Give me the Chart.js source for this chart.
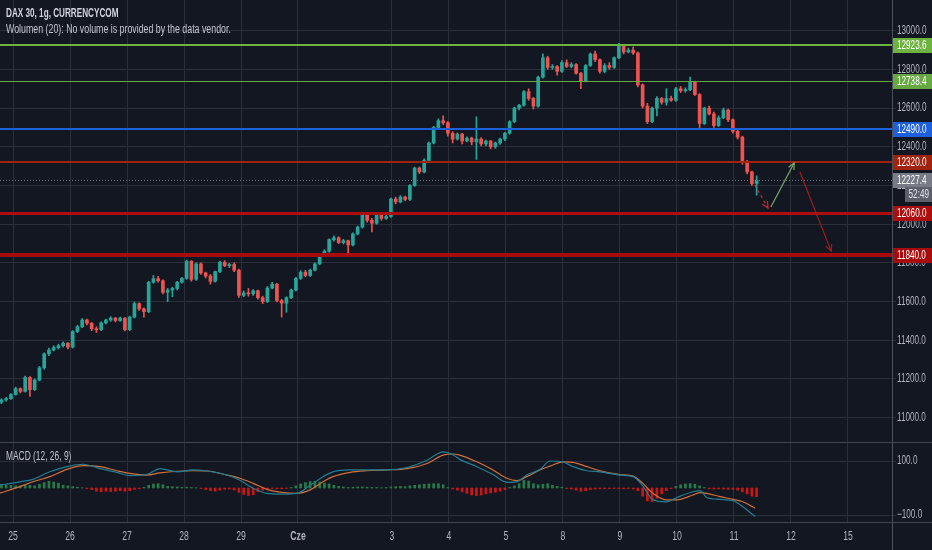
<!DOCTYPE html>
<html>
<head>
<meta charset="utf-8">
<script src="https://cdn.jsdelivr.net/npm/chart.js@4.4.1/dist/chart.umd.min.js"></script>
<style>
  html, body { margin: 0; padding: 0; background: #131722; }
  #wrap { position: relative; width: 932px; height: 550px; overflow: hidden; }
  canvas { position: absolute; left: 0; display: block; }
  #main { top: 0; }
  #macd { top: 442px; }
</style>
</head>
<body>
<div id="wrap">
  <canvas id="main" width="932" height="442"></canvas>
  <canvas id="macd" width="932" height="108"></canvas>
</div>
<script>
// ---- data (DAX 30, 1h candles, 25 May - 11 Jun) ----
var open = [11080,11092,11098,11120,11150,11136,11208,11145,11195,11258,
  11330,11350,11362,11372,11385,11365,11445,11470,11505,11488,
  11460,11455,11490,11505,11515,11502,11515,11455,11520,11590,
  11562,11548,11700,11718,11708,11648,11660,11668,11700,11720,
  11808,11715,11795,11748,11732,11705,11755,11803,11785,11792,
  11762,11632,11645,11640,11656,11620,11600,11670,11690,11605,
  11592,11620,11660,11720,11752,11735,11762,11795,11845,11860,
  11920,11930,11905,11915,11893,11950,11985,12055,12020,12005,
  12050,12030,12040,12130,12115,12140,12128,12200,12290,12270,
  12330,12420,12500,12535,12525,12470,12440,12465,12430,12445,
  12425,12440,12415,12430,12400,12420,12440,12470,12530,12600,
  12615,12685,12650,12610,12760,12860,12810,12815,12790,12835,
  12815,12825,12780,12740,12820,12880,12850,12790,12820,12810,
  12860,12925,12890,12900,12885,12720,12610,12530,12600,12650,
  12630,12650,12640,12700,12690,12695,12735,12670,12520,12600,
  12570,12510,12550,12590,12540,12480,12450,12320,12270,12210];
var high = [11098,11105,11125,11158,11154,11215,11212,11200,11265,11335,
  11360,11372,11380,11392,11388,11450,11478,11512,11510,11492,
  11470,11495,11510,11522,11518,11520,11518,11525,11598,11594,
  11568,11705,11735,11730,11712,11668,11675,11705,11725,11815,
  11812,11800,11800,11752,11740,11758,11810,11812,11798,11800,
  11768,11655,11668,11662,11660,11628,11678,11700,11695,11612,
  11625,11665,11725,11760,11762,11768,11800,11848,11868,11925,
  11940,11935,11922,11918,11955,11990,12062,12060,12030,12058,
  12058,12048,12135,12140,12148,12145,12205,12295,12296,12338,
  12425,12505,12545,12560,12530,12478,12472,12470,12452,12450,
  12555,12448,12435,12433,12425,12445,12475,12535,12605,12620,
  12690,12700,12655,12765,12880,12868,12825,12820,12845,12850,
  12835,12830,12785,12825,12885,12895,12855,12830,12835,12865,
  12935,12930,12910,12915,12890,12725,12625,12605,12660,12655,
  12700,12662,12708,12712,12705,12760,12740,12675,12605,12610,
  12580,12560,12600,12595,12545,12485,12455,12330,12275,12250];
var low = [11072,11085,11094,11116,11128,11132,11110,11140,11190,11250,
  11320,11345,11355,11365,11355,11360,11440,11465,11480,11450,
  11440,11450,11485,11498,11495,11498,11448,11450,11515,11555,
  11520,11542,11695,11700,11640,11600,11625,11660,11695,11715,
  11705,11710,11740,11722,11690,11700,11750,11780,11775,11755,
  11622,11625,11628,11632,11612,11590,11595,11665,11598,11520,
  11545,11615,11655,11715,11728,11730,11758,11790,11838,11855,
  11912,11900,11898,11850,11888,11945,11980,12010,11960,12000,
  12020,12025,12035,12105,12110,12120,12122,12195,12262,12265,
  12325,12415,12495,12515,12455,12420,12435,12415,12425,12410,
  12335,12405,12405,12390,12392,12412,12432,12465,12525,12590,
  12610,12640,12595,12605,12755,12800,12800,12770,12785,12810,
  12808,12775,12700,12735,12815,12840,12780,12782,12800,12805,
  12855,12880,12885,12878,12710,12600,12520,12525,12560,12620,
  12615,12635,12635,12680,12682,12690,12665,12490,12515,12565,
  12500,12505,12545,12530,12470,12440,12310,12260,12200,12150];
var close = [11092,11098,11120,11150,11136,11208,11145,11195,11258,11330,
  11350,11362,11372,11385,11365,11445,11470,11505,11488,11460,
  11455,11490,11505,11515,11502,11515,11455,11520,11590,11562,
  11548,11700,11718,11708,11648,11660,11668,11700,11720,11808,
  11715,11795,11748,11732,11705,11755,11803,11785,11792,11762,
  11632,11645,11640,11656,11620,11600,11670,11690,11605,11592,
  11620,11660,11720,11752,11735,11762,11795,11845,11860,11920,
  11930,11905,11915,11893,11950,11985,12055,12020,12005,12050,
  12030,12040,12130,12115,12140,12128,12200,12290,12270,12330,
  12420,12500,12535,12525,12470,12440,12465,12430,12445,12425,
  12440,12415,12430,12400,12420,12440,12470,12530,12600,12615,
  12685,12650,12610,12760,12860,12810,12815,12790,12835,12815,
  12825,12780,12740,12820,12880,12850,12790,12820,12810,12860,
  12925,12890,12900,12885,12720,12610,12530,12600,12650,12630,
  12650,12640,12700,12690,12695,12735,12670,12520,12600,12570,
  12510,12550,12590,12540,12480,12450,12320,12270,12210,12227.4];

// MACD (12, 26, 9)
var macdHist = [14,12,10,8,8,9,10,8,14,20,
  25,22,18,10,8,5,3,1,-3,-6,
  -12,-14,-12,-13,-12,-10,-12,-10,-5,-3,
  3,10,15,16,12,6,5,4,3,3,
  2,1,-2,-6,-10,-12,-8,-5,-4,-8,
  -16,-24,-28,-25,-14,-8,-4,-2,-3,-3,
  -2,2,8,15,20,24,25,22,18,15,
  10,6,4,2,3,4,4,3,2,2,
  1,2,4,5,6,5,8,10,12,14,
  15,16,16,12,2,-4,-8,-14,-20,-26,
  -28,-26,-22,-18,-16,-12,-6,2,8,16,
  28,26,16,12,14,16,10,6,3,-2,
  -4,-8,-12,-10,-6,-4,-3,-3,-2,-2,
  -3,-3,-2,-4,-10,-30,-48,-50,-38,-22,
  -10,-2,6,12,15,16,14,8,2,-3,
  -4,-3,-4,-5,-5,-8,-14,-22,-30,-32];
var macdAt = [-0.3,3.9,6.6,10.2,13.8,17.2,20.8,24.3,27.1,30.6,33.4,37.0,40.3,43.3,47.5,
  50.2,53.0,55.9,59.3,62.2,65.0,67.7,69.8,73.4,77.0,81.2,85.4,89.6,93.0,95.1,
  96.5,100.1,103.5,106.4,108.5,110.6,113.4,115.5,118.2,120.3,123.3,126.0,130.2,133.0,134.9,
  137.2,140.1,142.2,145.6,147.1,148.5,151.3,154.0,156.1,158.7];
var macdLine = [11,23,32,60,79,88,72,58,46,50,72,60,67,63,48,
  29,-1,-20,-23,-20,10,42,60,67,67,67,76,103,134,122,
  106,79,50,21,23,48,69,100,97,79,64,60,48,42,11,
  -44,-51,-35,-14,-10,-35,-42,-47,-69,-106];
var signalLine = [-19,5,23,42,69,83,79,64,54,48,56,62,64,63,48,
  36,17,-5,-17,-20,-7,23,42,58,64,67,72,91,122,126,
  122,97,67,36,27,42,67,81,97,95,79,64,50,44,20,
  -20,-44,-44,-26,-17,-20,-32,-42,-51,-75];

// time axis
var dayLabels = ['25','26','27','28','29','Cze','3','4','5','8','9','10','11','12','15'];
var dayAt = [2.44,14.44,26.44,38.44,50.44,62.44,82.23,94.23,106.23,118.23,130.23,142.23,154.23,166.23,178.23];

var priceTicks = [11000,11200,11400,11600,11800,12000,12200,12400,12600,12800,13000];
var macdTicks = [100,-100];

// drawn levels + forecast arrows
var levelValues = [12923.6,12738.4,12490.0,12320.0,12060.0,11840.0];
var lastPrice = 12227.4, countdown = '52:49';
var arrowFrom = [[158.6,12203],[162.0,12089],[168.1,12270]];
var arrowTo = [[161.4,12084],[166.9,12316],[174.7,11861]];

// ---- styles ----
var BG = '#131722', GRID = '#2a2e39', BORDER = '#4c505b', TXT = '#b2b5be';
var UP = '#26a69a', DOWN = '#ef5350';
var levelColors = ['#6db33f','#67a843','#1e5fdc','#a2230d','#ad0d0d','#a80b0b'];
var levelWidths = [2,1,2,2,3,4];
var arrowColors = ['#c62828','#79a866','#a31c1c'];
var arrowDash = [[3,3],[],[]];
var FONT = '"Liberation Sans", Arial, sans-serif';
var SQ = 0.68;

var X_MIN = -0.3, X_MAX = 187.5;
var idx = close.map(function (v, i) { return i; });

var txt = function (ctx, s, x, y, o) {
  o = o || {};
  ctx.save();
  ctx.font = o.font || ('12px ' + FONT);
  ctx.fillStyle = o.color || TXT;
  ctx.textBaseline = 'middle';
  ctx.textAlign = o.align || 'left';
  ctx.translate(x, y);
  ctx.scale(o.sx || SQ, 1);
  ctx.fillText(s, 0, 0);
  ctx.restore();
};

var hline = function (ctx, x0, x1, y, color, w) {
  ctx.beginPath();
  ctx.strokeStyle = color;
  ctx.lineWidth = w;
  ctx.moveTo(x0, y);
  ctx.lineTo(x1, y);
  ctx.stroke();
};

var candleColor = function (c) {
  var i = c.dataIndex;
  return close[i] >= open[i] ? UP : DOWN;
};

var xAxis = function (h) {
  return {
    type: 'linear', min: X_MIN, max: X_MAX, offset: false,
    grid: { color: GRID, drawTicks: false, offset: false },
    border: { display: h > 0, color: BORDER },
    ticks: { display: false, autoSkip: false },
    afterBuildTicks: function (s) { s.ticks = dayAt.map(function (v) { return { value: v }; }); },
    afterFit: function (s) { s.height = h; }
  };
};

var mainPlugin = {
  id: 'mainPlugin',
  beforeDraw: function (chart) {
    var ctx = chart.ctx;
    ctx.save();
    ctx.fillStyle = BG;
    ctx.fillRect(0, 0, chart.width, chart.height);
    ctx.restore();
  },
  afterDatasetsDraw: function (chart) {
    var ctx = chart.ctx, a = chart.chartArea, ys = chart.scales.y, xs = chart.scales.x;
    ctx.save();
    // last price line, dotted
    var yl = Math.round(ys.getPixelForValue(lastPrice)) + 0.5;
    ctx.setLineDash([1, 2]);
    hline(ctx, a.left, a.right, yl, '#6b6e79', 1);
    ctx.setLineDash([]);
    levelValues.forEach(function (v, k) {
      var y = ys.getPixelForValue(v);
      if (levelWidths[k] % 2) y = Math.round(y) + 0.5; else y = Math.round(y);
      hline(ctx, a.left, a.right, y, levelColors[k], levelWidths[k]);
    });
    // forecast arrows
    arrowFrom.forEach(function (p, k) {
      var x0 = xs.getPixelForValue(p[0]), y0 = ys.getPixelForValue(p[1]);
      var x1 = xs.getPixelForValue(arrowTo[k][0]), y1 = ys.getPixelForValue(arrowTo[k][1]);
      var ang = Math.atan2(y1 - y0, x1 - x0);
      ctx.strokeStyle = arrowColors[k];
      ctx.lineWidth = 1.2;
      ctx.setLineDash(arrowDash[k]);
      ctx.beginPath(); ctx.moveTo(x0, y0); ctx.lineTo(x1, y1); ctx.stroke();
      ctx.setLineDash([]);
      ctx.beginPath();
      ctx.moveTo(x1 - 7 * Math.cos(ang - 0.45), y1 - 7 * Math.sin(ang - 0.45));
      ctx.lineTo(x1, y1);
      ctx.lineTo(x1 - 7 * Math.cos(ang + 0.45), y1 - 7 * Math.sin(ang + 0.45));
      ctx.stroke();
    });
    ctx.restore();
  },
  afterDraw: function (chart) {
    var ctx = chart.ctx, a = chart.chartArea, ys = chart.scales.y;
    var lx = a.right + 5;
    ys.ticks.forEach(function (t) {
      txt(ctx, t.value.toFixed(1), lx, ys.getPixelForValue(t.value));
    });
    // label boxes on the price axis
    var box = function (v, color, label, fg) {
      var y = Math.round(ys.getPixelForValue(v));
      ctx.fillStyle = color;
      ctx.fillRect(a.right + 1, y - 7, chart.width - a.right - 1, 15);
      txt(ctx, label, lx, y + 0.5, { color: fg || '#ffffff' });
    };
    levelValues.forEach(function (v, k) { box(v, levelColors[k], v.toFixed(1)); });
    box(lastPrice, '#787b86', lastPrice.toFixed(1));
    var yc = Math.round(ys.getPixelForValue(lastPrice)) + 14;
    ctx.fillStyle = '#5d606b';
    ctx.fillRect(a.right + 13, yc - 7, chart.width - a.right - 13, 15);
    txt(ctx, countdown, chart.width - 3, yc + 0.5, { color: '#e0e3eb', align: 'right' });
    // legend
    txt(ctx, 'DAX 30, 1g, CURRENCYCOM', 6, 14, { font: '600 12px ' + FONT, color: '#d1d4dc', sx: 0.68 });
    txt(ctx, 'Wolumen (20): No volume is provided by the data vendor.', 6, 30, { font: '12px ' + FONT, color: '#c3c6ce', sx: 0.735 });
  }
};

var macdPlugin = {
  id: 'macdPlugin',
  beforeDraw: function (chart) {
    var ctx = chart.ctx;
    ctx.save();
    ctx.fillStyle = BG;
    ctx.fillRect(0, 0, chart.width, chart.height);
    ctx.restore();
  },
  afterDraw: function (chart) {
    var ctx = chart.ctx, a = chart.chartArea, ys = chart.scales.y, xs = chart.scales.x;
    ctx.save();
    hline(ctx, 0, chart.width, 0.5, '#434651', 1);
    hline(ctx, 0, chart.width, a.bottom + 0.5, '#434651', 1);
    ctx.beginPath();
    ctx.strokeStyle = BORDER;
    ctx.moveTo(a.right + 0.5, 0); ctx.lineTo(a.right + 0.5, chart.height);
    ctx.stroke();
    ctx.restore();
    txt(ctx, 'MACD (12, 26, 9)', 6, 15, { font: '12px ' + FONT, color: '#c3c6ce', sx: 0.7 });
    ys.ticks.forEach(function (t) {
      var s = t.value < 0 ? '\u2212' + Math.abs(t.value).toFixed(1) : t.value.toFixed(1);
      txt(ctx, s, a.right + 5, ys.getPixelForValue(t.value));
    });
    dayLabels.forEach(function (l, k) {
      txt(ctx, l, xs.getPixelForValue(dayAt[k]), a.bottom + 15, {
        align: 'center', font: (l === 'Cze' ? 'bold ' : '') + '12px ' + FONT, color: '#b2b5be', sx: 0.72
      });
    });
  }
};

Chart.defaults.font.family = FONT;

new Chart(document.getElementById('main'), {
  type: 'bar',
  data: {
    datasets: [{
      label: 'body',
      data: idx.map(function (i) { return { x: i, y: [open[i], close[i]] }; }),
      backgroundColor: candleColor,
      barThickness: 3, minBarLength: 1, grouped: false, order: 1
    }, {
      label: 'wick',
      data: idx.map(function (i) { return { x: i, y: [low[i], high[i]] }; }),
      backgroundColor: candleColor,
      barThickness: 1, grouped: false, order: 2
    }]
  },
  options: {
    responsive: false, animation: false, events: [],
    layout: { padding: 0 },
    plugins: { legend: { display: false }, tooltip: { enabled: false } },
    scales: {
      x: xAxis(0),
      y: {
        position: 'right', min: 10874.4, max: 13158.7,
        grid: { color: GRID, tickLength: 4 },
        border: { color: BORDER },
        ticks: { display: false },
        afterBuildTicks: function (s) { s.ticks = priceTicks.map(function (v) { return { value: v }; }); },
        afterFit: function (s) { s.width = 40; }
      }
    }
  },
  plugins: [mainPlugin]
});

new Chart(document.getElementById('macd'), {
  type: 'bar',
  data: {
    datasets: [{
      type: 'line', label: 'MACD',
      data: macdAt.map(function (x, k) { return { x: x, y: macdLine[k] }; }),
      borderColor: '#1f7f93', borderWidth: 1.2, pointRadius: 0,
      cubicInterpolationMode: 'monotone', order: 0
    }, {
      type: 'line', label: 'Signal',
      data: macdAt.map(function (x, k) { return { x: x, y: signalLine[k] }; }),
      borderColor: '#d2703a', borderWidth: 1.2, pointRadius: 0,
      cubicInterpolationMode: 'monotone', order: 1
    }, {
      label: 'Histogram',
      data: idx.map(function (i) { return { x: i, y: macdHist[i] }; }),
      backgroundColor: function (c) { return macdHist[c.dataIndex] >= 0 ? '#287a48' : '#cc1515'; },
      barThickness: 2, grouped: false, order: 2
    }]
  },
  options: {
    responsive: false, animation: false, events: [],
    layout: { padding: 0 },
    plugins: { legend: { display: false }, tooltip: { enabled: false } },
    scales: {
      x: xAxis(28),
      y: {
        position: 'right', min: -125.9, max: 170.4,
        grid: { color: GRID, tickLength: 4 },
        border: { color: BORDER },
        ticks: { display: false },
        afterBuildTicks: function (s) { s.ticks = macdTicks.map(function (v) { return { value: v }; }); },
        afterFit: function (s) { s.width = 40; }
      }
    }
  },
  plugins: [macdPlugin]
});
</script>
</body>
</html>
